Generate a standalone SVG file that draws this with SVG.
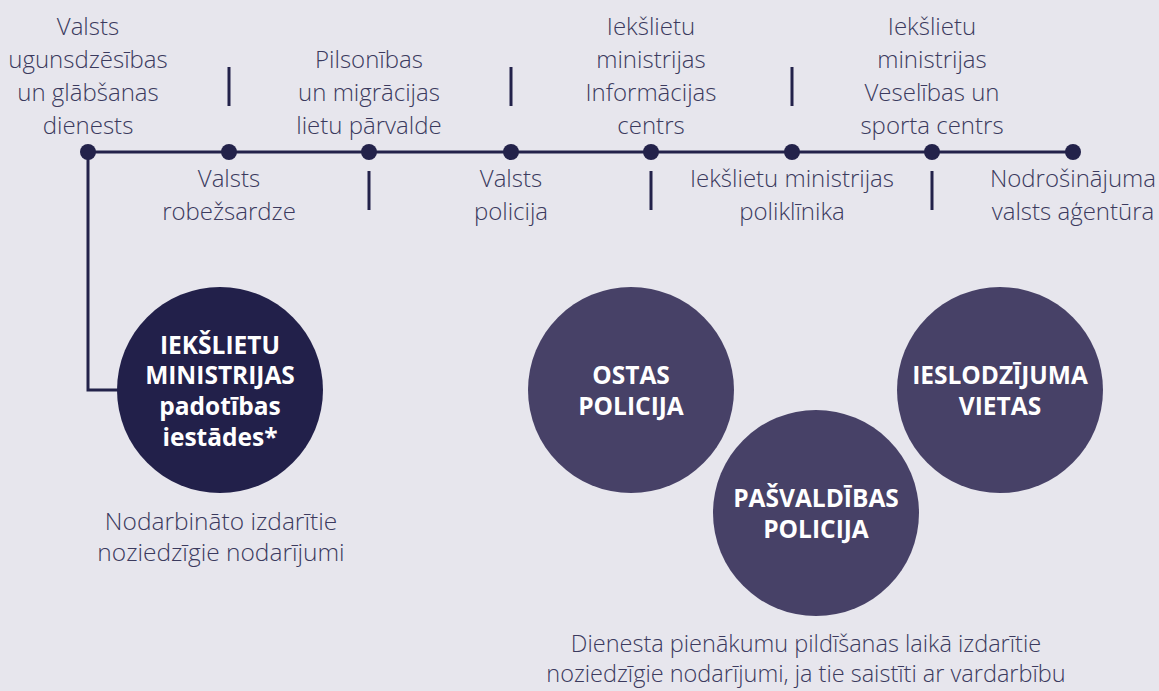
<svg xmlns="http://www.w3.org/2000/svg" width="1159" height="691" viewBox="0 0 1159 691">
<style>
.lbl{font-family:"Open Sans","Liberation Sans",sans-serif;font-weight:300;font-size:24px;fill:#3b3a5e;text-anchor:middle}
.cap{font-family:"Open Sans","Liberation Sans",sans-serif;font-weight:700;font-size:24.5px;fill:#ffffff;text-anchor:middle}
.ln{stroke:#23224a;stroke-width:3;fill:none}
.dot{fill:#23224a}
.c1{fill:#22204a}
.c2{fill:#474167}
</style>
<rect width="1159" height="691" fill="#e7e6ed"/>
<g id="connectors">
<line class="ln" x1="88" y1="152" x2="1073" y2="152"/>
<polyline class="ln" points="88,152 88,390 120,390"/>
<line class="ln" x1="229" y1="67" x2="229" y2="106"/>
<line class="ln" x1="511" y1="67" x2="511" y2="106"/>
<line class="ln" x1="792" y1="67" x2="792" y2="106"/>
<line class="ln" x1="369" y1="171" x2="369" y2="210"/>
<line class="ln" x1="651" y1="171" x2="651" y2="210"/>
<line class="ln" x1="932" y1="171" x2="932" y2="210"/>
</g>
<g id="n-vugd"><circle class="dot" cx="88" cy="152" r="8"/>
<text class="lbl" x="88" y="35">Valsts</text><text class="lbl" x="88" y="68">ugunsdzēsības</text><text class="lbl" x="88" y="101">un glābšanas</text><text class="lbl" x="88" y="134">dienests</text></g>
<g id="n-vrs"><circle class="dot" cx="229" cy="152" r="8"/>
<text class="lbl" x="229" y="187">Valsts</text><text class="lbl" x="229" y="220">robežsardze</text></g>
<g id="n-pmlp"><circle class="dot" cx="369" cy="152" r="8"/>
<text class="lbl" x="369" y="68">Pilsonības</text><text class="lbl" x="369" y="101">un migrācijas</text><text class="lbl" x="369" y="134">lietu pārvalde</text></g>
<g id="n-vp"><circle class="dot" cx="511" cy="152" r="8"/>
<text class="lbl" x="511" y="187">Valsts</text><text class="lbl" x="511" y="220">policija</text></g>
<g id="n-iic"><circle class="dot" cx="651" cy="152" r="8"/>
<text class="lbl" x="651" y="35">Iekšlietu</text><text class="lbl" x="651" y="68">ministrijas</text><text class="lbl" x="651" y="101">Informācijas</text><text class="lbl" x="651" y="134">centrs</text></g>
<g id="n-poli"><circle class="dot" cx="792" cy="152" r="8"/>
<text class="lbl" x="792" y="187">Iekšlietu ministrijas</text><text class="lbl" x="792" y="220">poliklīnika</text></g>
<g id="n-vsc"><circle class="dot" cx="932" cy="152" r="8"/>
<text class="lbl" x="932" y="35">Iekšlietu</text><text class="lbl" x="932" y="68">ministrijas</text><text class="lbl" x="932" y="101">Veselības un</text><text class="lbl" x="932" y="134">sporta centrs</text></g>
<g id="n-nva"><circle class="dot" cx="1073" cy="152" r="8"/>
<text class="lbl" x="1073" y="187">Nodrošinājuma</text><text class="lbl" x="1073" y="220">valsts aģentūra</text></g>
<g id="n-im"><circle class="c1" cx="220" cy="390" r="103"/>
<text class="cap" x="220" y="354">IEKŠLIETU</text><text class="cap" x="220" y="384">MINISTRIJAS</text><text class="cap" x="220" y="415">padotības</text><text class="cap" x="220" y="446">iestādes*</text>
<text class="lbl" x="221" y="530" style="font-size:24.5px">Nodarbināto izdarītie</text><text class="lbl" x="221" y="561" style="font-size:24.5px">noziedzīgie nodarījumi</text></g>
<g id="n-ostas"><circle class="c2" cx="631" cy="390" r="103"/>
<text class="cap" x="631" y="384">OSTAS</text><text class="cap" x="631" y="415">POLICIJA</text></g>
<g id="n-ieslodz"><circle class="c2" cx="1000" cy="390" r="103"/>
<text class="cap" x="1000" y="384">IESLODZĪJUMA</text><text class="cap" x="1000" y="415">VIETAS</text></g>
<g id="n-pasv"><circle class="c2" cx="816" cy="513" r="103"/>
<text class="cap" x="816" y="507">PAŠVALDĪBAS</text><text class="cap" x="816" y="538">POLICIJA</text></g>
<g id="caption2">
<text class="lbl" x="806" y="652" style="font-size:23.5px">Dienesta pienākumu pildīšanas laikā izdarītie</text><text class="lbl" x="806" y="682" style="font-size:23.5px">noziedzīgie nodarījumi, ja tie saistīti ar vardarbību</text></g>
</svg>
